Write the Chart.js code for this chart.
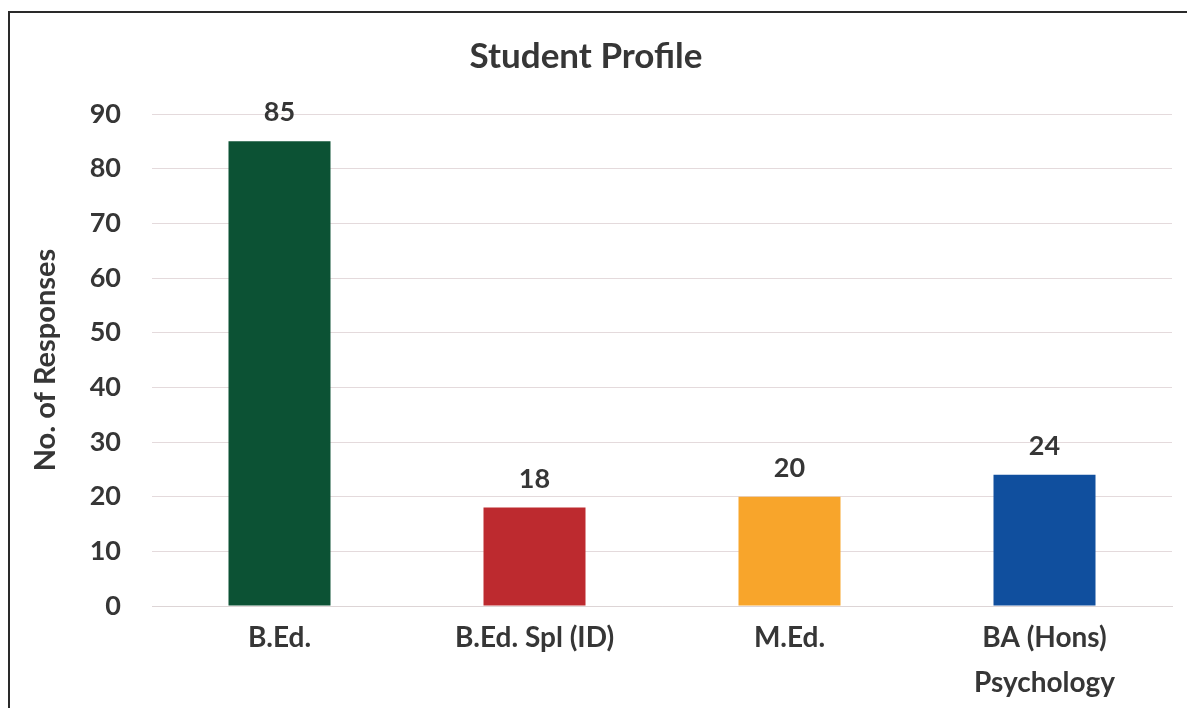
<!DOCTYPE html>
<html>
<head>
<meta charset="utf-8">
<script src="https://cdn.jsdelivr.net/npm/chart.js@4"></script>
<style>
  html, body { margin: 0; padding: 0; background: #fff; }
  #wrap { position: relative; width: 1187px; height: 708px; overflow: hidden; }
  #frame {
    position: absolute; left: 8px; top: 11px; width: 1300px; height: 800px;
    border-left: 2px solid #2a2a2a; border-top: 2px solid #2a2a2a;
    pointer-events: none;
  }
  canvas { position: absolute; left: 0; top: 0; }
</style>
</head>
<body>
<div id="wrap">
  <canvas id="chart" width="1187" height="708"></canvas>
  <div id="frame"></div>
</div>
<script>
const categories = ["B.Ed.", "B.Ed. Spl (ID)", "M.Ed.", ["BA (Hons)", "Psychology"]];
const responses = [85, 18, 20, 24];
const barColors = ["#0c5234", "#bd2a2f", "#f8a52b", "#104f9e"];
const yTicks = [0, 10, 20, 30, 40, 50, 60, 70, 80, 90];

const textColor = "#363636";
const fontFamily = "Lato, 'Liberation Sans', sans-serif";

// etiquetas de valor encima de cada barra
const valueLabels = {
  id: "valueLabels",
  afterDatasetsDraw(chart) {
    const ctx = chart.ctx;
    const meta = chart.getDatasetMeta(0);
    ctx.save();
    ctx.font = "bold 27px " + fontFamily;
    ctx.fillStyle = textColor;
    ctx.textAlign = "center";
    ctx.textBaseline = "alphabetic";
    meta.data.forEach((bar, i) => {
      ctx.fillText(String(responses[i]), bar.x, bar.y - 20);
    });
    ctx.restore();
  }
};

new Chart(document.getElementById("chart"), {
  type: "bar",
  data: {
    labels: categories,
    datasets: [{
      label: "No. of Responses",
      data: responses,
      backgroundColor: barColors,
      borderWidth: 0,
      barPercentage: 1,
      categoryPercentage: 0.4
    }]
  },
  options: {
    responsive: false,
    animation: false,
    layout: { padding: { top: 0, right: 15, bottom: 0, left: 0 } },
    plugins: {
      legend: { display: false },
      tooltip: { enabled: false },
      title: {
        display: true,
        text: "Student Profile",
        color: textColor,
        font: { family: fontFamily, size: 35, weight: "bold", lineHeight: 1.2 },
        padding: { top: 36, bottom: 36 }
      }
    },
    scales: {
      x: {
        grid: { display: false, drawTicks: false },
        border: { display: true, color: "#ddd5d6", width: 1 },
        ticks: {
          color: textColor,
          font: { family: fontFamily, size: 28, weight: "bold", lineHeight: 1.6 },
          padding: 10,
          maxRotation: 0
        },
        afterFit(scale) { scale.height = 102; }
      },
      y: {
        min: 0,
        max: 90,
        afterBuildTicks(scale) { scale.ticks = yTicks.map(v => ({ value: v })); },
        grid: { color: "#e4dadc", lineWidth: 1, drawTicks: false },
        border: { display: false },
        ticks: {
          color: textColor,
          font: { family: fontFamily, size: 27, weight: "bold" },
          padding: 31
        },
        title: {
          display: true,
          text: "No. of Responses",
          color: textColor,
          font: { family: fontFamily, size: 29, weight: "bold" },
          padding: { top: 28, bottom: 0 }
        },
        afterFit(scale) { scale.width = 152; }
      }
    }
  },
  plugins: [valueLabels]
});
</script>
</body>
</html>
